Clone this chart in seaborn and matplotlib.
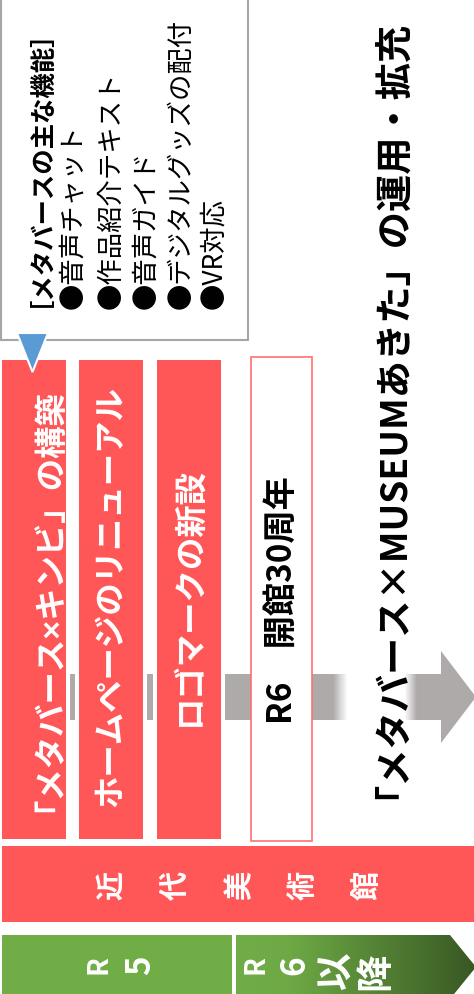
import matplotlib.pyplot as plt
import matplotlib.patches as mpatches
import numpy as np
import seaborn as sns

# texts of the diagram
header = "［メタバースの主な機能］"
features = ["●音声チャット", "●作品紹介テキスト", "●音声ガイド",
            "●デジタルグッズの配付", "●VR対応"]
projects = ["「メタバース×キンビ」の構築", "ホームページのリニューアル", "ロゴマークの新設"]
anniversary = "R6　開館30周年"
main_goal = "「メタバース×MUSEUMあきた」の運用・拡充"
museum = "近代美術館"
periods = ["R5", "R6以降"]

RED = "#FF5757"
GRAY = "#AEAAAA"
BLUE = "#5B9BD5"
GREEN = "#70AD47"
DARK_GREEN = "#385723"

sns.set_theme(style="white")
plt.rcParams["font.family"] = ["Noto Sans CJK JP", "DejaVu Sans"]
NARROW = ["Liberation Sans", "Noto Sans CJK JP"]

fig = plt.figure(figsize=(4.74, 9.95), dpi=100)
ax = fig.add_axes([0, 0, 1, 1])
ax.set_xlim(0, 474)
ax.set_ylim(995, 0)
ax.axis("off")
renderer = fig.canvas.get_renderer()


def fit(t, span):
    # scale a rotated text so that its box covers `span` pixels along y
    h = t.get_window_extent(renderer).height
    t.set_fontsize(t.get_fontsize() * span / h)
    return t.get_fontsize()


# callout box with feature list
ax.add_patch(mpatches.Rectangle((1, -5), 247, 346, facecolor="white",
                                edgecolor="#A6A6A6", lw=1.5, zorder=2))
ax.add_patch(mpatches.Polygon([(17, 334), (48, 334), (32.5, 373)], closed=True,
                              facecolor=BLUE, edgecolor="white", lw=1.5, zorder=6))
th = ax.text(27, 307, header, rotation=90, ha="center", va="bottom",
             fontsize=18, fontweight="bold", color="black", zorder=3)
fit(th, 305)
feat_x = [73, 111, 146, 181, 214]
feat_texts = [ax.text(x, 309, s, rotation=90, ha="center", va="bottom",
                      fontsize=18, color="black", zorder=3)
              for x, s in zip(feat_x, features)]
fsize = fit(feat_texts[3], 290)
for t in feat_texts:
    t.set_fontsize(fsize)

# gray arrow band
ax.add_patch(mpatches.Polygon([(70, 675), (441, 675), (441, 652), (476, 698),
                               (441, 744), (441, 721), (70, 721)], closed=True,
                              facecolor=GRAY, edgecolor="none", zorder=1))
fx = np.linspace(320, 430, 220)
alpha = np.interp(fx, [320, 333, 347, 405, 417, 430], [0, 0, 1, 1, 0, 0])
fade = np.ones((1, fx.size, 4))
fade[0, :, 3] = alpha
ax.imshow(fade, extent=[320, 430, 721, 675], aspect="auto", zorder=1.5,
          interpolation="bilinear")

# project columns
col_left = [2, 79, 157]
col_mid = [592, 597, 597]
col_w = 64
col_texts = []
for x, ym, s in zip(col_left, col_mid, projects):
    ax.add_patch(mpatches.Rectangle((x - 4, 357), col_w + 8, 487,
                                    facecolor="white", edgecolor="none", zorder=2))
    ax.add_patch(mpatches.Rectangle((x, 361), col_w, 479, facecolor=RED,
                                    edgecolor="none", zorder=3))
    col_texts.append(ax.text(x + col_w / 2, ym, s, rotation=90, ha="center",
                             va="center", fontsize=23, fontweight="bold",
                             color="white", zorder=4,
                             family=NARROW if "×" in s else None))
csize = fit(col_texts[1], 422)
for t in col_texts:
    t.set_fontsize(csize)

# anniversary box
ax.add_patch(mpatches.Rectangle((251, 358), 61, 484, facecolor="white",
                                edgecolor="#FF7070", lw=1.2, zorder=3))
ta = ax.text(282, 600, anniversary, rotation=90, ha="center", va="center",
             fontsize=23, fontweight="bold", color="black", zorder=4)
fit(ta, 248)

# main goal
tg = ax.text(373, 399.5, main_goal, rotation=90, ha="center", va="center",
             fontsize=26.5, fontweight="bold", color="black", zorder=4)
fit(tg, 798)

# museum bar
ax.add_patch(mpatches.Rectangle((2, 847), 480, 76, facecolor=RED,
                                edgecolor="none", zorder=3))
for i, ch in enumerate(museum):
    ax.text(111 + 64 * i, 885, ch, rotation=90, ha="center", va="center",
            fontsize=21, fontweight="bold", color="white", zorder=4)

# period bars
ax.add_patch(mpatches.Rectangle((2, 936), 230, 70, facecolor=GREEN,
                                edgecolor="none", zorder=3))
chev = mpatches.Polygon([(236, 936), (450, 936), (476, 968), (450, 1000),
                         (236, 1000)], closed=True, facecolor="none",
                        edgecolor="none", zorder=3)
ax.add_patch(chev)
gx = np.linspace(236, 476, 300)
c0 = np.array(sns.color_palette([GREEN])[0])
c1 = np.array(sns.color_palette([DARK_GREEN])[0])
t = np.interp(gx, [236, 290, 476], [0, 0.05, 1])[:, None]
grad = (c0 * (1 - t) + c1 * t)[None, :, :]
im = ax.imshow(grad, extent=[236, 476, 1000, 936], aspect="auto", zorder=3,
               interpolation="bilinear")
im.set_clip_path(chev)

period_x = [[99, 141], [256, 295, 336, 375]]
for xs, s in zip(period_x, periods):
    for x, ch in zip(xs, s):
        if ch.isascii() and ch.isalpha():
            size, yc = 20, 965
        elif ch.isdigit():
            size, yc = 24, 965
        else:
            size, yc = 27, 971
        ax.text(x, yc, ch, rotation=90, ha="center", va="center",
                fontsize=size, fontweight="bold", color="white", zorder=4)

ax.set_xlim(0, 474)
ax.set_ylim(995, 0)
fig.savefig("out.png", dpi=100)
plt.close(fig)
